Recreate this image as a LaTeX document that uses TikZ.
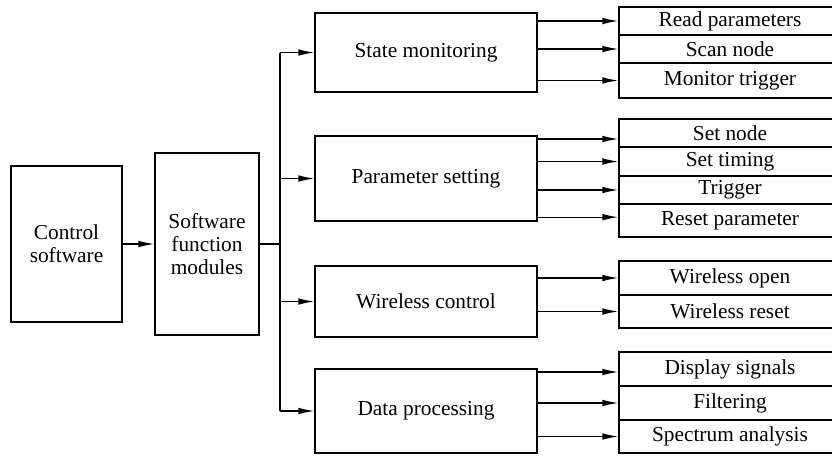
\documentclass[tikz,border=0pt]{standalone}
\usepackage{fontspec}
\setmainfont{Liberation Serif}
\usetikzlibrary{arrows.meta,positioning,calc}

\tikzset{
  box/.style={draw, line width=1pt, align=center, inner sep=0pt,
              font=\fontsize{16}{17.5}\selectfont},
  midbox/.style={box, minimum width=166.5pt},
  cell/.style={box, minimum width=166.5pt},
  link/.style={line width=1pt},
  arr/.style={link, -{Latex[length=12pt,width=5pt]}}
}

\begin{document}
\begin{tikzpicture}[x=0.75pt, y=-0.75pt]
    \useasboundingbox (0,0) rectangle (832,455);
    \clip (0,0) rectangle (832,455);
    \fill[white] (0,0) rectangle (832,455);

    % left part
    \node[box, minimum width=83.25pt, minimum height=117pt] (ctrl) at (66.5,244) {Control\\software};
    \node[box, minimum width=78pt, minimum height=136.5pt] (sfm) at (207,244) {Software\\function\\modules};

    % the four modules
    \node[midbox, minimum height=59.25pt] (sm) at (426,52.5) {State monitoring};
    \node[midbox, minimum height=63.75pt] (ps) at (426,178.5) {Parameter setting};
    \node[midbox, minimum height=53.25pt] (wc) at (426,301.5) {Wireless control};
    \node[midbox, minimum height=63pt] (dp) at (426,411) {Data processing};

    % functions of each module
    \node[cell, minimum height=21pt] (rp) at (730,21) {Read parameters};
    \node[cell, minimum height=21pt] (sn) at (730,49) {Scan node};
    \node[cell, minimum height=26.25pt] (mt) at (730,80.5) {Monitor trigger};

    \node[cell, minimum height=21pt] (snd) at (730,133) {Set node};
    \node[cell, minimum height=21.75pt] (stm) at (730,161.5) {Set timing};
    \node[cell, minimum height=21pt] (trg) at (730,190) {Trigger};
    \node[cell, minimum height=24.75pt] (rst) at (730,220.5) {Reset parameter};

    \node[cell, minimum height=25.5pt] (wo) at (730,278) {Wireless open};
    \node[cell, minimum height=24.75pt] (wr) at (730,311.5) {Wireless reset};

    \node[cell, minimum height=25.5pt] (ds) at (730,369) {Display signals};
    \node[cell, minimum height=25.5pt] (flt) at (730,403) {Filtering};
    \node[cell, minimum height=24.75pt] (sa) at (730,436.5) {Spectrum analysis};

    % connectors
    \draw[arr] (ctrl) -- (sfm);
    \coordinate (trunk) at (280,244);
    \draw[link] (sfm.east) -- (trunk);
    \draw[link] (trunk |- sm.west) -- (trunk |- dp.west);
    \foreach \m in {sm,ps,wc,dp}
      \draw[arr] (trunk |- \m.west) -- (\m.west);

    \foreach \a/\b/\s in {sm/rp/0, sm/sn/0, sm/mt/0,
                          ps/snd/-4.5, ps/stm/0, ps/trg/0, ps/rst/2.5,
                          wc/wo/0, wc/wr/0,
                          dp/ds/-2.25, dp/flt/0, dp/sa/0} {
      \coordinate (t) at ([yshift=\s pt]\b.west);
      \draw[arr] (\a.east |- t) -- (t);
    }
\end{tikzpicture}
\end{document}
